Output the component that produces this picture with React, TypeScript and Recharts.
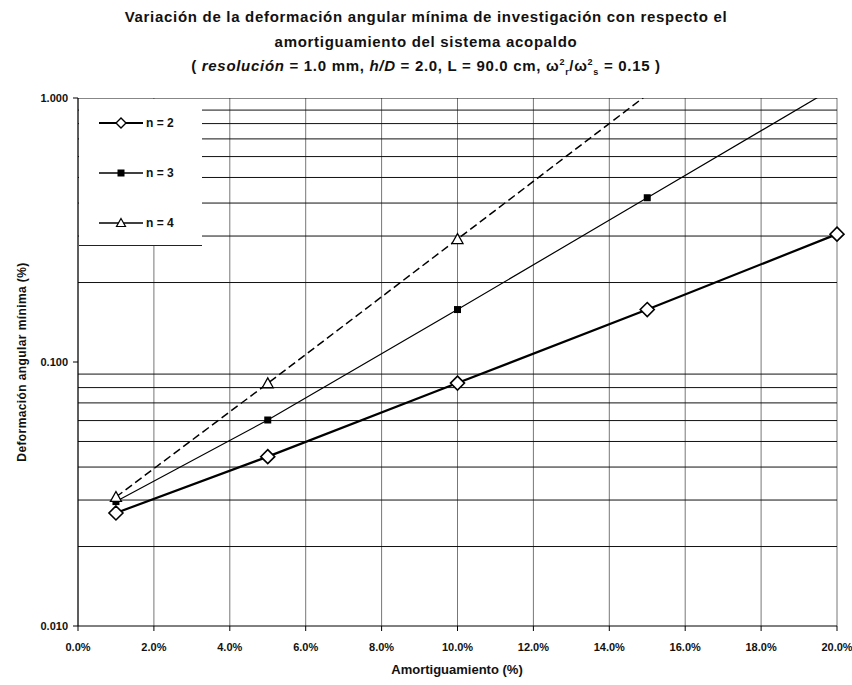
import React from 'react';
import { LineChart, Line, XAxis, YAxis, CartesianGrid, ReferenceLine } from 'recharts';

const damping = [1, 5, 10, 15, 20];
const n2Values = [0.0268, 0.0438, 0.0832, 0.158, 0.305];
const n3Values = [0.0296, 0.0603, 0.158, 0.419, 1.11];
const n4Values = [0.0308, 0.083, 0.292, 1.03, null];
const xTicks = [0, 2, 4, 6, 8, 10, 12, 14, 16, 18, 20];
const yTicks = [0.01, 0.1, 1];
const minorGrid = [0.02, 0.03, 0.04, 0.05, 0.06, 0.07, 0.08, 0.09, 0.2, 0.3, 0.4, 0.5, 0.6, 0.7, 0.8, 0.9, 1];
const seriesNames = ['n = 2', 'n = 3', 'n = 4'];

const data = damping.map((x, i) => ({ x, n2: n2Values[i], n3: n3Values[i], n4: n4Values[i] }));

const FONT = 'Arial, "Liberation Sans", sans-serif';

const inRange = (v: any) => v != null && v <= 1.0001;

const DiamondDot = (props: any) => {
  const { cx, cy, value, index } = props;
  if (!inRange(value) || cx == null || cy == null) return <g key={`d${index}`} />;
  const r = 7;
  return (
    <path key={`d${index}`} d={`M${cx},${cy - r}L${cx + r},${cy}L${cx},${cy + r}L${cx - r},${cy}Z`}
      fill="#fff" stroke="#000" strokeWidth={1.6} />
  );
};
const SquareDot = (props: any) => {
  const { cx, cy, value, index } = props;
  if (!inRange(value) || cx == null || cy == null) return <g key={`s${index}`} />;
  const r = 3.5;
  return <rect key={`s${index}`} x={cx - r} y={cy - r} width={2 * r} height={2 * r} fill="#000" />;
};
const TriangleDot = (props: any) => {
  const { cx, cy, value, index } = props;
  if (!inRange(value) || cx == null || cy == null) return <g key={`t${index}`} />;
  const r = 5.5;
  return (
    <path key={`t${index}`} d={`M${cx},${cy - r}L${cx + r},${cy + r * 0.8}L${cx - r},${cy + r * 0.8}Z`}
      fill="#fff" stroke="#000" strokeWidth={1.3} />
  );
};

const LegendIcon = ({ kind }: { kind: number }) => (
  <svg width={46} height={14} style={{ display: 'block' }}>
    <line x1={0} y1={7} x2={44} y2={7} stroke="#000" strokeWidth={kind === 0 ? 2 : 1.3} />
    {kind === 0 && <path d="M22,2L27,7L22,12L17,7Z" fill="#fff" stroke="#000" strokeWidth={1.4} />}
    {kind === 1 && <rect x={18.5} y={3.5} width={7} height={7} fill="#000" />}
    {kind === 2 && <path d="M22,2.5L26.5,10.5L17.5,10.5Z" fill="#fff" stroke="#000" strokeWidth={1.2} />}
  </svg>
);

const supStyle: React.CSSProperties = { fontSize: 9, position: 'relative', top: -6 };
const subStyle: React.CSSProperties = { fontSize: 9, position: 'relative', top: 4 };

export default function App() {
  return (
    <div style={{ position: 'absolute', left: 0, top: 0, width: 852, height: 685, background: '#fff', fontFamily: FONT }}>
      <div style={{ position: 'absolute', left: 0, top: 5, width: 852, textAlign: 'center', fontSize: 15, fontWeight: 'bold', lineHeight: '24.5px', letterSpacing: 0.7, color: '#111' }}>
        <div>Variación de la deformación angular mínima de investigación con respecto el</div>
        <div>amortiguamiento del sistema acopaldo</div>
        <div>( <i>resolución</i> = 1.0 mm, <i>h/D</i> = 2.0, L = 90.0 cm, ω<span style={supStyle}>2</span><span style={subStyle}>r</span>/ω<span style={supStyle}>2</span><span style={subStyle}>s</span> = 0.15 )</div>
      </div>
      <LineChart width={852} height={685} data={data} margin={{ top: 98, right: 15, bottom: 29, left: 0 }}>
        <CartesianGrid horizontal={false} vertical={true} stroke="#777" strokeWidth={1} />
        {minorGrid.map((v) => (
          <ReferenceLine key={v} y={v} stroke="#111" strokeWidth={1} ifOverflow="hidden" />
        ))}
        <XAxis dataKey="x" type="number" domain={[0, 20]} ticks={xTicks} height={30}
          tickFormatter={(v: number) => `${v.toFixed(1)}%`} tickSize={5} tickMargin={12}
          stroke="#000" tick={{ fill: '#111', fontSize: 11, fontWeight: 'bold', fontFamily: FONT }} />
        <YAxis type="number" scale="log" domain={[0.01, 1]} ticks={yTicks} allowDataOverflow width={78}
          tickFormatter={(v: number) => v.toFixed(3)} tickSize={5} tickMargin={5}
          stroke="#000" tick={{ fill: '#111', fontSize: 11, fontWeight: 'bold', fontFamily: FONT }} />
        <Line type="linear" dataKey="n2" stroke="#000" strokeWidth={2.2} dot={DiamondDot} isAnimationActive={false} />
        <Line type="linear" dataKey="n3" stroke="#000" strokeWidth={1.2} dot={SquareDot} isAnimationActive={false} />
        <Line type="linear" dataKey="n4" stroke="#000" strokeWidth={1.5} strokeDasharray="8 4" dot={TriangleDot} isAnimationActive={false} connectNulls />
      </LineChart>
      <div style={{ position: 'absolute', left: 79, top: 99, width: 123, height: 146, background: '#fff', borderBottom: '1px solid #222' }}>
        {seriesNames.map((name, i) => (
          <div key={name} style={{ position: 'absolute', left: 20, top: 17 + i * 50, display: 'flex', alignItems: 'center', fontSize: 12, fontWeight: 'bold', color: '#111' }}>
            <LegendIcon kind={i} />
            <span style={{ marginLeft: 1 }}>{name}</span>
          </div>
        ))}
      </div>
      <div style={{ position: 'absolute', left: 0, top: 662, width: 914, textAlign: 'center', fontSize: 13, fontWeight: 'bold', color: '#111' }}>
        Amortiguamiento (%)
      </div>
      <div style={{ position: 'absolute', left: 22, top: 362, width: 0, height: 0 }}>
        <div style={{ position: 'absolute', left: -150, top: -8, width: 300, textAlign: 'center', transform: 'rotate(-90deg)', fontSize: 12, fontWeight: 'bold', color: '#111', whiteSpace: 'nowrap', lineHeight: '16px', letterSpacing: 0.4 }}>
          Deformación angular mínima (%)
        </div>
      </div>
    </div>
  );
}
